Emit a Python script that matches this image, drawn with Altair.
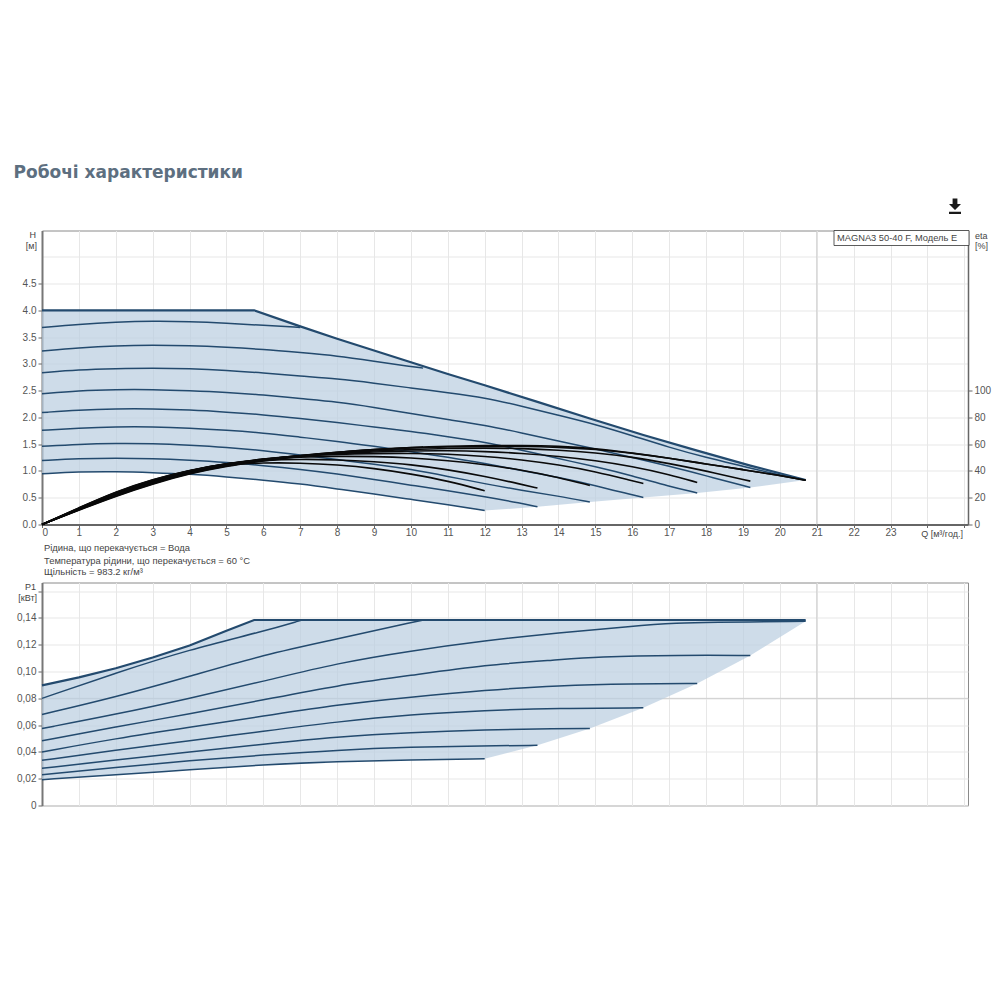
"""Pump performance curves: head/efficiency panel above, power panel below."""
import altair as alt
import pandas as pd

FONT = 'Liberation Sans'
BLUE = '#234a6e'
BLACK = '#0a0a0a'

# head curves, Q in m3/h and H in m
max_q = [0, 5.75, 7, 8, 9, 10, 11, 12, 13.43, 14.85, 16.3, 17.76, 19.2, 20.7]
max_h = [4.0, 4.0, 3.70, 3.47, 3.25, 3.03, 2.81, 2.60, 2.29, 1.98, 1.67, 1.38, 1.10, 0.83]
c1_q = [0, 1, 2, 3, 4, 5, 6, 7]
c1_h = [3.68, 3.74, 3.78, 3.80, 3.79, 3.76, 3.72, 3.68]
c2_q = [0, 1, 2, 3, 4, 5, 6, 7, 8, 9, 10, 10.33]
c2_h = [3.24, 3.30, 3.34, 3.35, 3.34, 3.31, 3.27, 3.21, 3.15, 3.05, 2.95, 2.92]
c3_q = [0, 1, 2, 3, 4, 5, 6, 7, 8, 9, 10, 11, 12, 13, 14, 15, 16, 17, 18, 19, 20, 20.7]
c3_h = [2.835, 2.89, 2.91, 2.92, 2.91, 2.88, 2.83, 2.77, 2.72, 2.64, 2.55, 2.46, 2.37, 2.21, 2.04, 1.87, 1.66, 1.44, 1.25, 1.09, 0.92, 0.83]
c4_q = [0, 1, 2, 3, 4, 5, 6, 7, 8, 9, 10, 11, 12, 13, 14, 15, 16, 17, 18, 19.2]
c4_h = [2.44, 2.50, 2.52, 2.52, 2.50, 2.47, 2.42, 2.35, 2.29, 2.19, 2.07, 1.96, 1.855, 1.71, 1.56, 1.41, 1.25, 1.09, 0.91, 0.69]
c5_q = [0, 1, 2, 3, 4, 5, 6, 7, 8, 9, 10, 11, 12, 13, 14, 15, 16, 17, 17.76]
c5_h = [2.09, 2.14, 2.16, 2.16, 2.14, 2.10, 2.05, 1.98, 1.905, 1.82, 1.74, 1.64, 1.54, 1.39, 1.23, 1.08, 0.91, 0.71, 0.59]
c6_q = [0, 1, 2, 3, 4, 5, 6, 7, 8, 9, 10, 11, 12, 13, 14, 15, 16, 16.3]
c6_h = [1.76, 1.80, 1.825, 1.825, 1.80, 1.76, 1.71, 1.63, 1.555, 1.46, 1.36, 1.26, 1.14, 1.01, 0.88, 0.73, 0.55, 0.504]
c7_q = [0, 1, 2, 3, 4, 5, 6, 7, 8, 9, 10, 11, 12, 13, 14, 14.85]
c7_h = [1.46, 1.50, 1.514, 1.51, 1.48, 1.44, 1.38, 1.30, 1.21, 1.13, 1.03, 0.90, 0.76, 0.64, 0.53, 0.42]
c8_q = [0, 1, 2, 3, 4, 5, 6, 7, 8, 9, 10, 11, 12, 13, 13.43]
c8_h = [1.196, 1.23, 1.24, 1.23, 1.20, 1.16, 1.10, 1.03, 0.945, 0.84, 0.735, 0.63, 0.52, 0.395, 0.33]
c9_q = [0, 1, 2, 3, 4, 5, 6, 7, 8, 9, 10, 11, 12]
c9_h = [0.947, 0.985, 0.99, 0.97, 0.94, 0.89, 0.83, 0.76, 0.665, 0.57, 0.47, 0.37, 0.26]

# shaded region of the head panel
band_q = [0, 1, 2, 3, 4, 5, 5.75, 7, 8, 9, 10, 11, 12, 13.43, 14.85, 16.3, 17.76, 19.2, 20.7]
band_top = [4.0, 4.0, 4.0, 4.0, 4.0, 4.0, 4.0, 3.70, 3.47, 3.25, 3.03, 2.81, 2.60, 2.29, 1.98, 1.67, 1.38, 1.10, 0.83]
band_low = [0.947, 0.985, 0.99, 0.97, 0.94, 0.89, 0.845, 0.76, 0.665, 0.57, 0.47, 0.37, 0.26, 0.33, 0.42, 0.504, 0.59, 0.69, 0.83]

# efficiency curves, eta in %
e0_q = [0, 1, 2, 3, 4, 5, 6, 7, 8, 9, 10, 11, 12, 13, 14, 15, 16, 17, 18, 19, 20, 20.7]
e0 = [0, 10.8, 21.2, 30.4, 38.0, 43.6, 47.6, 51.0, 53.8, 56.0, 57.6, 58.6, 59.0, 59.1, 58.6, 56.8, 53.4, 49.6, 45.2, 41.0, 36.6, 33.0]
e1_q = [0, 1, 2, 3, 4, 5, 6, 7]
e1 = [0, 11.0, 21.6, 30.8, 38.4, 44.0, 48.0, 51.4]
e2_q = [0, 1, 2, 3, 4, 5, 6, 7, 8, 9, 10, 10.33]
e2 = [0, 11.2, 22.0, 31.2, 38.8, 44.4, 48.4, 51.4, 54.0, 56.0, 57.4, 57.8]
e3_q = [0, 1, 2, 3, 4, 5, 6, 7, 8, 9, 10, 11, 12, 13, 14, 15, 16, 17, 18, 19, 20, 20.7]
e3 = [0, 11.3, 22.3, 31.6, 39.2, 44.6, 48.6, 51.6, 54.0, 55.8, 57.2, 58.0, 58.4, 58.4, 57.8, 56.2, 53.4, 49.6, 45.2, 41.0, 36.6, 33.0]
e4_q = [0, 1, 2, 3, 4, 5, 6, 7, 8, 9, 10, 11, 12, 13, 14, 15, 16, 17, 18, 19.2]
e4 = [0, 11.5, 22.7, 32.0, 39.6, 45.0, 48.8, 51.4, 53.4, 55.0, 56.0, 56.8, 57.2, 56.8, 55.6, 53.6, 50.4, 45.6, 40.0, 32.4]
e5_q = [0, 1, 2, 3, 4, 5, 6, 7, 8, 9, 10, 11, 12, 13, 14, 15, 16, 17, 17.76]
e5 = [0, 11.7, 23.1, 32.4, 40.0, 45.4, 49.0, 51.4, 53.0, 54.2, 55.0, 55.2, 54.6, 53.2, 51.0, 47.8, 43.4, 37.4, 31.4]
e6_q = [0, 1, 2, 3, 4, 5, 6, 7, 8, 9, 10, 11, 12, 13, 14, 15, 16, 16.3]
e6 = [0, 11.9, 23.5, 32.8, 40.4, 45.6, 49.0, 51.2, 52.4, 53.0, 53.2, 52.6, 51.0, 48.4, 44.6, 39.6, 32.6, 30.6]
e7_q = [0, 1, 2, 3, 4, 5, 6, 7, 8, 9, 10, 11, 12, 13, 14, 14.85]
e7 = [0, 12.1, 23.9, 33.2, 40.6, 45.6, 48.8, 50.4, 51.0, 50.8, 49.8, 47.8, 44.8, 40.8, 35.2, 29.2]
e8_q = [0, 1, 2, 3, 4, 5, 6, 7, 8, 9, 10, 11, 12, 13, 13.43]
e8 = [0, 12.3, 24.3, 33.6, 40.8, 45.6, 48.0, 48.8, 48.4, 47.0, 44.8, 41.0, 36.0, 30.0, 27.2]
e9_q = [0, 1, 2, 3, 4, 5, 6, 7, 8, 9, 10, 11, 12]
e9 = [0, 12.5, 24.6, 33.8, 40.6, 44.6, 46.2, 46.0, 44.6, 42.0, 37.8, 32.6, 25.2]

# power curves, P1 in kW
pmax_q = [0, 1, 2, 3, 4, 5, 5.75, 20.7]
pmax = [0.0897, 0.0957, 0.1025, 0.1105, 0.1195, 0.1305, 0.1385, 0.1385]
p1_q = [0, 2, 4, 6, 7.05]
p1 = [0.080, 0.099, 0.1165, 0.130, 0.1385]
p2_q = [0, 2, 4, 6, 8, 9, 10, 10.33]
p2 = [0.068, 0.081, 0.0964, 0.1125, 0.1244, 0.1305, 0.1365, 0.1385]
p3_q = [0, 2, 4, 6, 8, 10, 12, 14, 16, 17.29, 18, 20.7]
p3 = [0.0575, 0.068, 0.080, 0.0927, 0.1063, 0.1155, 0.123, 0.129, 0.134, 0.1363, 0.1368, 0.1375]
p4_q = [0, 2, 4, 6, 8, 10, 12, 14, 15, 17.29, 19.2]
p4 = [0.0483, 0.0587, 0.0684, 0.0788, 0.0897, 0.0971, 0.105, 0.1088, 0.111, 0.1123, 0.112]
p5_q = [0, 2, 4, 6, 8, 10, 12, 14, 16, 17.76]
p5 = [0.040, 0.050, 0.0585, 0.0667, 0.0753, 0.081, 0.086, 0.0897, 0.091, 0.091]
p6_q = [0, 2, 4, 6, 8, 10, 12, 14, 16.3]
p6 = [0.0337, 0.0414, 0.0483, 0.0555, 0.0625, 0.068, 0.0711, 0.0726, 0.0729]
p7_q = [0, 2, 4, 6, 8, 10, 12, 14, 14.85]
p7 = [0.0278, 0.034, 0.040, 0.0458, 0.0513, 0.0545, 0.0565, 0.0575, 0.0575]
p8_q = [0, 2, 4, 6, 8, 10, 12, 13.43]
p8 = [0.023, 0.0285, 0.0335, 0.0377, 0.0414, 0.0436, 0.0446, 0.0449]
p9_q = [0, 2, 4, 6, 8, 10, 12]
p9 = [0.0193, 0.0228, 0.0268, 0.0305, 0.033, 0.034, 0.0349]

# shaded region of the power panel
pband_q = [0, 1, 2, 3, 4, 5, 5.75, 8, 10, 12, 13.43, 14.85, 16.3, 17.76, 19.2, 20.7]
pband_top = [0.0897, 0.0957, 0.1025, 0.1105, 0.1195, 0.1305, 0.1385, 0.1385, 0.1385, 0.1385, 0.1385, 0.1385, 0.1385, 0.1385, 0.1385, 0.1385]
pband_low = [0.0193, 0.021, 0.0228, 0.0248, 0.0268, 0.0288, 0.0298, 0.033, 0.034, 0.0349, 0.0449, 0.0575, 0.0729, 0.091, 0.112, 0.1375]

q_ticks = list(range(26))
h_ticks = [0, 0.5, 1, 1.5, 2, 2.5, 3, 3.5, 4, 4.5, 5]
eta_ticks = [0, 20, 40, 60, 80, 100]
p_ticks = [0, 0.02, 0.04, 0.06, 0.08, 0.10, 0.12, 0.14, 0.16]
notes = [
    'Рідина, що перекачується = Вода',
    'Температура рідини, що перекачується = 60 °C',
    'Щільність = 983.2 кг/м³',
]


def curves(pairs):
    """Long table with one curve id per (q, value) pair of lists."""
    frames = [pd.DataFrame({'q': q, 'v': v, 'curve': i}) for i, (q, v) in enumerate(pairs)]
    return pd.concat(frames)


head = curves([(c1_q, c1_h), (c2_q, c2_h), (c3_q, c3_h), (c4_q, c4_h),
               (c5_q, c5_h), (c6_q, c6_h), (c7_q, c7_h), (c8_q, c8_h), (c9_q, c9_h)])
eta = curves([(e0_q, e0), (e1_q, e1), (e2_q, e2), (e3_q, e3), (e4_q, e4),
              (e5_q, e5), (e6_q, e6), (e7_q, e7), (e8_q, e8), (e9_q, e9)])
power = curves([(p1_q, p1), (p2_q, p2), (p3_q, p3), (p4_q, p4),
                (p5_q, p5), (p6_q, p6), (p7_q, p7), (p8_q, p8), (p9_q, p9)])

W = 926
H_TOP = 294
H_LOW = 223
q_scale = alt.Scale(domain=[0, 25.1], nice=False)
h_scale = alt.Scale(domain=[0, 5.49], nice=False)
eta_scale = alt.Scale(domain=[0, 219.6], nice=False)
p_scale = alt.Scale(domain=[0, 0.1665], nice=False)


def label(text, x, y, **kw):
    """Annotation placed in panel pixels."""
    opts = dict(font=FONT, fontSize=9, color='#444444', align='left', baseline='middle')
    opts.update(kw)
    return alt.Chart(pd.DataFrame({'t': [text]})).mark_text(**opts).encode(
        x=alt.value(x), y=alt.value(y), text='t:N')


q_axis = alt.Axis(values=q_ticks, tickCount=len(q_ticks), grid=True, gridColor='#e7e7e7', title=None,
                  tickColor='#666666', domainColor='#666666', domainWidth=2, labelColor='#555555',
                  labelFont=FONT, labelFontSize=10, labelPadding=0, tickSize=3, labelOverlap=False,
                  labelExpr="datum.value > 23 ? '' : datum.label")
h_axis = alt.Axis(values=h_ticks, tickCount=len(h_ticks), grid=True, gridColor='#e7e7e7', title=None,
                  tickColor='#666666', domainColor='#777777', domainWidth=2, labelColor='#555555',
                  labelFont=FONT, labelFontSize=10, tickSize=4, labelOverlap=False,
                  tickOpacity={'condition': {'test': 'datum.value == 5', 'value': 0}, 'value': 1},
                  labelExpr="datum.value == 5 ? '' : format(datum.value, '.1f')")
eta_axis = alt.Axis(values=eta_ticks, tickCount=len(eta_ticks), grid=False, orient='right', title=None,
                    tickColor='#666666', domainColor='#666666', domainWidth=1.5, labelColor='#555555',
                    labelFont=FONT, labelFontSize=10, tickSize=4, labelOverlap=False)

band = alt.Chart(pd.DataFrame({'q': band_q, 'top': band_top, 'low': band_low})).mark_area(
    color='#b9cde0', opacity=0.7).encode(
    x=alt.X('q:Q', scale=q_scale, axis=q_axis),
    y=alt.Y('top:Q', scale=h_scale, axis=h_axis),
    y2='low:Q',
)
head_max = alt.Chart(pd.DataFrame({'q': max_q, 'v': max_h})).mark_line(
    color=BLUE, strokeWidth=2.2).encode(
    x=alt.X('q:Q', scale=q_scale),
    y=alt.Y('v:Q', scale=h_scale, axis=None),
)
head_lines = alt.Chart(head).mark_line(color=BLUE, strokeWidth=1.5, interpolate='basis').encode(
    x=alt.X('q:Q', scale=q_scale),
    y=alt.Y('v:Q', scale=h_scale, axis=None),
    detail='curve:N',
)
eta_lines = alt.Chart(eta).mark_line(color=BLACK, strokeWidth=1.6, interpolate='basis').encode(
    x=alt.X('q:Q', scale=q_scale),
    y=alt.Y('v:Q', scale=eta_scale, axis=eta_axis),
    detail='curve:N',
)
dark_q = alt.Chart(pd.DataFrame({'q': [21]})).mark_rule(color='#cfcfcf').encode(
    x=alt.X('q:Q', scale=q_scale))

legend_box = alt.Chart(pd.DataFrame({'a': [0]})).mark_rect(
    fill='white', stroke='#333333', strokeWidth=0.8).encode(
    x=alt.value(792), x2=alt.value(927), y=alt.value(0), y2=alt.value(15))

top_layers = [
    dark_q, band, head_lines, head_max,
    label('Робочі характеристики', -28.5, -58, font='DejaVu Sans', fontWeight='bold',
          fontSize=17, color='#5d6f80'),
    legend_box,
    label('MAGNA3 50-40 F, Модель E', 795, 7.5, fontSize=9.3),
    label('H', -6, 4, align='right'),
    label('[м]', -5, 15, align='right'),
    label('eta', 933, 5),
    label('[%]', 933, 15),
    label('Q [м³/год.]', 921, 303, align='right'),
    label(notes[0], 2, 317, fontSize=9.4),
    label(notes[1], 2, 330, fontSize=9.4),
    label(notes[2], 2, 341, fontSize=9.4),
    alt.Chart(pd.DataFrame({'a': [0]})).mark_point(
        shape='M-0.3,-1 L0.3,-1 L0.3,-0.3 L0.75,-0.3 L0,0.45 L-0.75,-0.3 L-0.3,-0.3 Z M-0.75,0.65 L0.75,0.65 L0.75,0.95 L-0.75,0.95 Z',
        filled=True, color='#1a1a1a', size=256, opacity=1).encode(
        x=alt.value(913), y=alt.value(-24)),
    eta_lines,
]
top = alt.layer(*top_layers).resolve_scale(y='independent').properties(width=W, height=H_TOP)

p_axis = alt.Axis(values=p_ticks, tickCount=len(p_ticks), grid=True, gridColor='#e7e7e7', title=None,
                  tickColor='#666666', domainColor='#777777', domainWidth=2, labelColor='#555555',
                  labelFont=FONT, labelFontSize=10, tickSize=4, labelOverlap=False,
                  labelExpr="datum.value > 0.15 ? '' : datum.value == 0 ? '0' : replace(format(datum.value, '.2f'), '.', ',')")
q_axis_low = alt.Axis(values=q_ticks, tickCount=len(q_ticks), grid=True, gridColor='#e7e7e7', title=None,
                      labels=False, ticks=False, domain=False)

pband = alt.Chart(pd.DataFrame({'q': pband_q, 'top': pband_top, 'low': pband_low})).mark_area(
    color='#b9cde0', opacity=0.7).encode(
    x=alt.X('q:Q', scale=q_scale, axis=q_axis_low),
    y=alt.Y('top:Q', scale=p_scale, axis=p_axis),
    y2='low:Q',
)
power_max = alt.Chart(pd.DataFrame({'q': pmax_q, 'v': pmax})).mark_line(
    color=BLUE, strokeWidth=2.2).encode(
    x=alt.X('q:Q', scale=q_scale),
    y=alt.Y('v:Q', scale=p_scale),
)
power_lines = alt.Chart(power).mark_line(color=BLUE, strokeWidth=1.5, interpolate='basis').encode(
    x=alt.X('q:Q', scale=q_scale),
    y=alt.Y('v:Q', scale=p_scale),
    detail='curve:N',
)
dark_p = alt.Chart(pd.DataFrame({'p': [0.08]})).mark_rule(color='#cfcfcf').encode(
    y=alt.Y('p:Q', scale=p_scale))
dark_q_low = alt.Chart(pd.DataFrame({'q': [21]})).mark_rule(color='#cfcfcf').encode(
    x=alt.X('q:Q', scale=q_scale))

low = alt.layer(
    dark_q_low, dark_p, pband, power_lines, power_max,
    label('P1', -6, 4, align='right'),
    label('[кВт]', -5, 15, align='right'),
).properties(width=W, height=H_LOW)

chart = alt.vconcat(top, low, spacing=58, bounds='flush').configure_view(
    stroke='#8a8a8a', strokeWidth=1
).properties(
    padding={'left': 5, 'top': 154.5, 'right': 0, 'bottom': 0},
    background='white',
)
chart.save('out.html', embed_options={'renderer': 'svg', 'actions': False})
